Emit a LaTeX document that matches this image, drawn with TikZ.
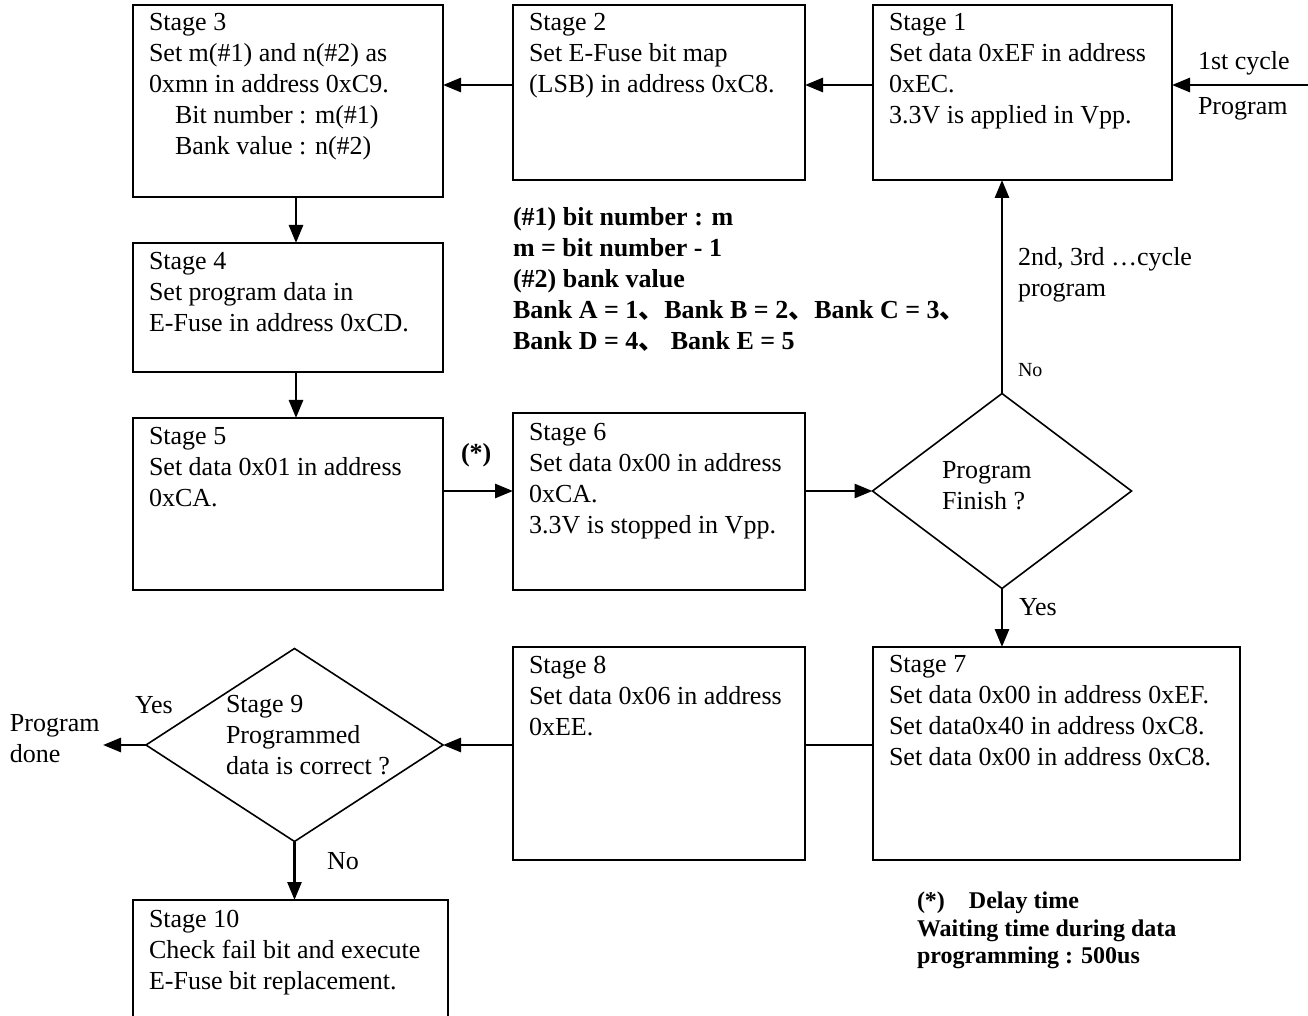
\documentclass[tikz,border=0pt]{standalone}
\usepackage{fontspec}
\setmainfont{Liberation Serif}
\newfontfamily\cjk{Noto Sans CJK SC}
\usetikzlibrary{shapes.geometric,arrows.meta}
\begin{document}
\begin{tikzpicture}[x=0.5pt,y=-0.5pt,
 box/.style={draw,line width=1pt,inner sep=0pt,outer sep=0pt,anchor=north west},
 dia/.style={draw,diamond,line width=0.8pt,inner sep=0pt,outer sep=0pt},
 txt/.style={inner sep=0pt,outer sep=0pt,anchor=north west,align=left,font=\fontsize{13}{15.5}\selectfont},
 note/.style={txt,font=\fontsize{13}{15.5}\selectfont\bfseries},
 foot/.style={txt,font=\fontsize{12}{13.75}\selectfont\bfseries},
 small/.style={txt,font=\fontsize{10}{12}\selectfont},
 arr/.style={line width=1.4pt,-{Triangle[length=9pt,width=7pt]}},
 ln/.style={line width=1.4pt}]
\useasboundingbox (0,0) rectangle (1308,1016);
\clip (0,0) rectangle (1308,1016);
% helper coordinates
\coordinate (row1) at (0,85);
\coordinate (row2) at (0,491);
\coordinate (row3) at (0,745);
\coordinate (col1) at (296,0);
\coordinate (in) at (1308,85);
\coordinate (out) at (103,745);
% boxes
\node[box,minimum width=155pt,minimum height=96pt] (s3) at (133,5) {};
\node[box,minimum width=146pt,minimum height=87.5pt] (s2) at (513,5) {};
\node[box,minimum width=149.5pt,minimum height=87.5pt] (s1) at (873,5) {};
\node[box,minimum width=155pt,minimum height=64.5pt] (s4) at (133,243) {};
\node[box,minimum width=155pt,minimum height=86pt] (s5) at (133,418) {};
\node[box,minimum width=146pt,minimum height=88.5pt] (s6) at (513,413) {};
\node[box,minimum width=183.5pt,minimum height=106.5pt] (s7) at (873,647) {};
\node[box,minimum width=146pt,minimum height=106.5pt] (s8) at (513,647) {};
\node[box,minimum width=157.5pt,minimum height=70pt] (s10) at (133,900) {};
\node[dia,minimum width=129.5pt,minimum height=97.5pt] (d1) at (1002,491) {};
\node[dia,minimum width=148.5pt,minimum height=96.5pt] (d9) at (294.5,745) {};
% box texts
\node[txt] (s3t) at (149,13) {Stage 3\\Set m(\#1) and n(\#2) as\\0xmn in address 0xC9.\\\hspace*{13pt}Bit number : m(\#1)\\\hspace*{13pt}Bank value : n(\#2)};
\node[txt] (s2t) at (529,13) {Stage 2\\Set E-Fuse bit map\\(LSB) in address 0xC8.};
\node[txt] (s1t) at (889,13) {Stage 1\\Set data 0xEF in address\\0xEC.\\3.3V is applied in Vpp.};
\node[txt] (s4t) at (149,252) {Stage 4\\Set program data in\\E-Fuse in address 0xCD.};
\node[txt] (s5t) at (149,427) {Stage 5\\Set data 0x01 in address\\0xCA.};
\node[txt] (s6t) at (529,423) {Stage 6\\Set data 0x00 in address\\0xCA.\\3.3V is stopped in Vpp.};
\node[txt] (s7t) at (889,655) {Stage 7\\Set data 0x00 in address 0xEF.\\Set data0x40 in address 0xC8.\\Set data 0x00 in address 0xC8.};
\node[txt] (s8t) at (529,656) {Stage 8\\Set data 0x06 in address\\0xEE.};
\node[txt] (s10t) at (149,910) {Stage 10\\Check fail bit and execute\\E-Fuse bit replacement.};
\node[txt] (d1t) at (942,461) {Program\\Finish ?};
\node[txt] (d9t) at (226,695) {Stage 9\\Programmed\\data is correct ?};
% notes
\node[note] (notes) at (513,207) {(\#1) bit number : m\\m = bit number - 1\\(\#2) bank value\\Bank A = 1{\cjk 、}Bank B = 2{\cjk 、}Bank C = 3{\cjk 、}\\Bank D = 4{\cjk 、} Bank E = 5};
\node[foot] (fn) at (917,892) {(*)\hspace{12pt}Delay time\\Waiting time during data\\programming : 500us};
% labels
\node[txt] (l1a) at (1198,51) {1st cycle};
\node[txt] (l1b) at (1198,97) {Program};
\node[txt] (l2) at (1018,247) {2nd, 3rd …cycle\\program};
\node[small] (lno1) at (1018,363) {No};
\node[txt] (lyes1) at (1019,598) {Yes};
\node[note] (lstar) at (461,443) {(*)};
\node[txt] (lyes2) at (135,696) {Yes};
\node[txt] (ldone) at (10,714) {Program\\done};
\node[txt] (lno2) at (327,852) {No};
% connectors
\draw[arr] (s2.west |- row1) -- (s3.east |- row1);
\draw[arr] (s1.west |- row1) -- (s2.east |- row1);
\draw[arr] (in) -- (s1.east |- row1);
\draw[arr] (s3.south -| col1) -- (s4.north -| col1);
\draw[arr] (s4.south -| col1) -- (s5.north -| col1);
\draw[arr] (s5.east |- row2) -- (s6.west |- row2);
\draw[arr] (s6.east |- row2) -- (d1.west);
\draw[arr] (d1.north) -- (d1.north |- s1.south);
\draw[arr] (d1.south) -- (d1.south |- s7.north);
\draw[ln] (s7.west |- row3) -- (s8.east |- row3);
\draw[arr] (s8.west |- row3) -- (d9.east);
\draw[arr] (d9.west) -- (out);
\draw[arr] (d9.south) -- (d9.south |- s10.north);
\end{tikzpicture}
\end{document}
